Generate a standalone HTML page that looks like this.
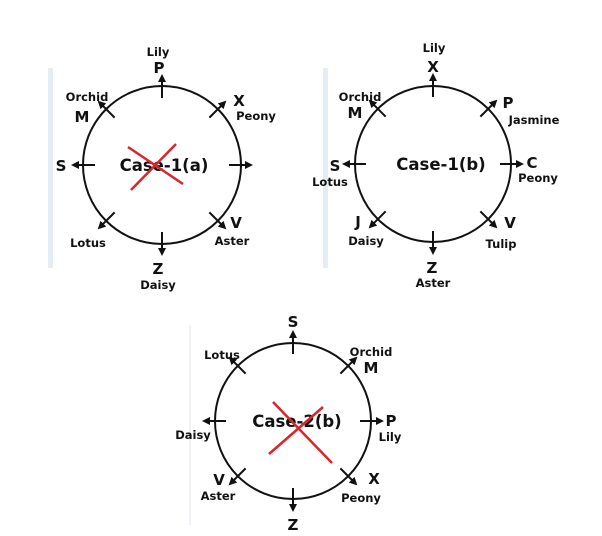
<!DOCTYPE html>
<html><head><meta charset="utf-8"><style>
html,body{margin:0;padding:0;background:#fff;}
svg{display:block;}
text{font-family:"DejaVu Sans",Verdana,sans-serif;font-weight:bold;fill:#111;text-anchor:middle;}
.n{font-size:11.5px;}
.l{font-size:15px;}
.c{font-size:16.5px;}
</style></head><body>
<svg width="602" height="536" viewBox="0 0 602 536" xmlns="http://www.w3.org/2000/svg">
<defs>
<marker id="a" markerWidth="8" markerHeight="8" refX="6" refY="4" orient="auto" markerUnits="userSpaceOnUse">
<path d="M0,0 L8,4 L0,8 Z" fill="#111"/></marker>
<g id="t"><line x1="0" y1="-67" x2="0" y2="-89" stroke="#111" stroke-width="2" marker-end="url(#a)"/></g>
<g id="ticks"><use href="#t"/><use href="#t" transform="rotate(45)"/><use href="#t" transform="rotate(90)"/><use href="#t" transform="rotate(135)"/><use href="#t" transform="rotate(180)"/><use href="#t" transform="rotate(225)"/><use href="#t" transform="rotate(270)"/><use href="#t" transform="rotate(315)"/></g>
</defs>
<rect x="48" y="68" width="5" height="200" fill="#e6ecf3"/>
<rect x="323" y="68" width="5" height="200" fill="#e6ecf3"/>
<rect x="189" y="325" width="2" height="200" fill="#eef1f5"/>

<!-- circle 1 -->
<circle cx="162" cy="165" r="79" fill="none" stroke="#111" stroke-width="2"/>
<g transform="translate(162,165)"><use href="#ticks"/></g>
<text class="c" x="164" y="171">Case-1(a)</text>
<line x1="128" y1="147" x2="183" y2="184" stroke="#d9252b" stroke-width="2.5"/>
<line x1="131" y1="190" x2="176" y2="144" stroke="#d9252b" stroke-width="2.5"/>
<text class="n" x="158" y="56">Lily</text><text class="l" x="159" y="73">P</text>
<text class="n" x="87" y="101">Orchid</text><text class="l" x="82" y="122">M</text>
<text class="l" x="239" y="106">X</text><text class="n" x="256" y="120">Peony</text>
<text class="l" x="61" y="171">S</text>
<text class="n" x="88" y="247">Lotus</text>
<text class="l" x="236" y="228">V</text><text class="n" x="232" y="245">Aster</text>
<text class="l" x="158" y="274">Z</text><text class="n" x="158" y="289">Daisy</text>

<!-- circle 2 -->
<circle cx="433" cy="164" r="78" fill="none" stroke="#111" stroke-width="2"/>
<g transform="translate(433,164)"><use href="#ticks"/></g>
<text class="c" x="441" y="170">Case-1(b)</text>
<text class="n" x="434" y="52">Lily</text><text class="l" x="433" y="72">X</text>
<text class="n" x="360" y="101">Orchid</text><text class="l" x="355" y="118">M</text>
<text class="l" x="508" y="108">P</text><text class="n" x="534" y="124">Jasmine</text>
<text class="l" x="335" y="171">S</text><text class="n" x="330" y="186">Lotus</text>
<text class="l" x="532" y="168">C</text><text class="n" x="538" y="182">Peony</text>
<text class="l" x="358" y="227">J</text><text class="n" x="366" y="245">Daisy</text>
<text class="l" x="510" y="228">V</text><text class="n" x="501" y="248">Tulip</text>
<text class="l" x="432" y="273">Z</text><text class="n" x="433" y="287">Aster</text>

<!-- circle 3 -->
<circle cx="293" cy="421" r="78" fill="none" stroke="#111" stroke-width="2"/>
<g transform="translate(293,421)"><use href="#ticks"/></g>
<text class="c" x="297" y="427">Case-2(b)</text>
<line x1="273" y1="402" x2="332" y2="463" stroke="#d9252b" stroke-width="2.5"/>
<line x1="269" y1="454" x2="323" y2="407" stroke="#d9252b" stroke-width="2.5"/>
<text class="l" x="293" y="327">S</text>
<text class="n" x="222" y="359">Lotus</text>
<text class="n" x="371" y="356">Orchid</text><text class="l" x="371" y="373">M</text>
<text class="n" x="193" y="439">Daisy</text>
<text class="l" x="391" y="426">P</text><text class="n" x="390" y="441">Lily</text>
<text class="l" x="219" y="485">V</text><text class="n" x="218" y="500">Aster</text>
<text class="l" x="374" y="484">X</text><text class="n" x="361" y="502">Peony</text>
<text class="l" x="293" y="530">Z</text>
</svg>
</body></html>
